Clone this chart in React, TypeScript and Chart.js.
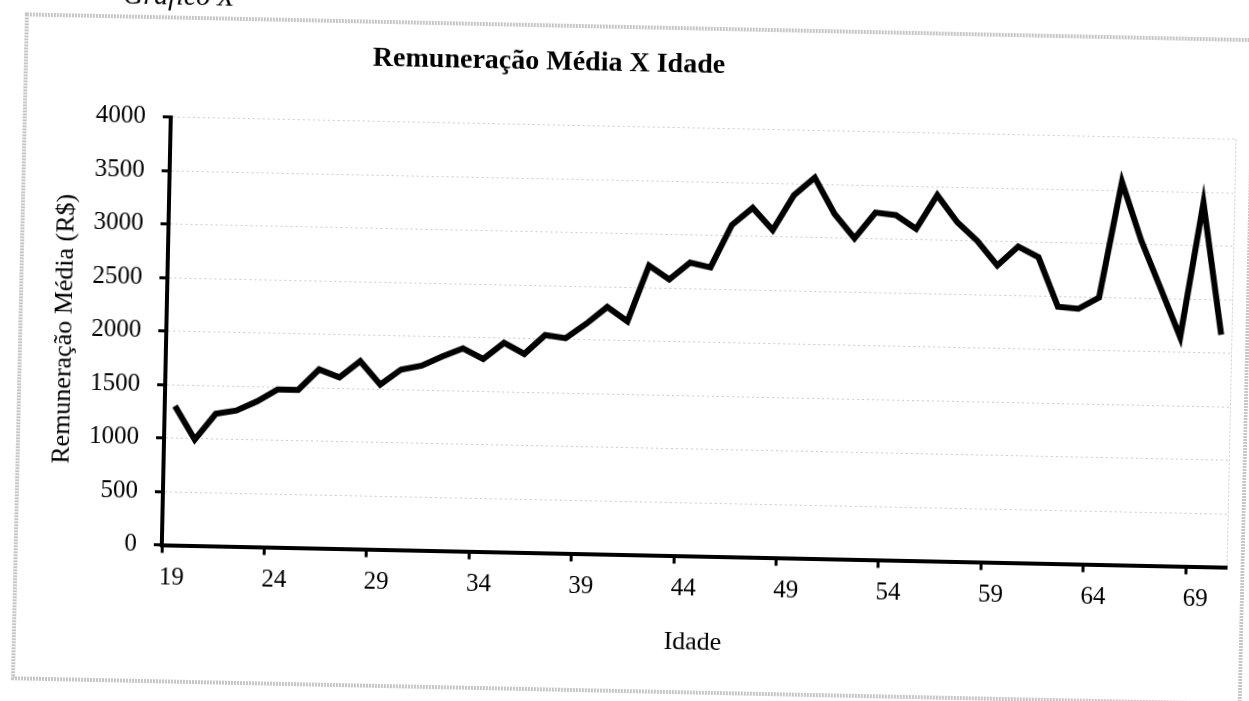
import React, { useEffect, useRef } from "react";
import { Chart, registerables } from "chart.js";

Chart.register(...registerables);

// ---- data ----
const ages: string[] = [
  "19", "20", "21", "22", "23", "24", "25", "26", "27", "28",
  "29", "30", "31", "32", "33", "34", "35", "36", "37", "38",
  "39", "40", "41", "42", "43", "44", "45", "46", "47", "48",
  "49", "50", "51", "52", "53", "54", "55", "56", "57", "58",
  "59", "60", "61", "62", "63", "64", "65", "66", "67", "68",
  "69", "70",
];

const remuneracaoMedia: number[] = [
  1300, 990, 1235, 1270, 1360, 1475, 1475, 1670, 1600, 1755,
  1540, 1685, 1725, 1815, 1895, 1800, 1955, 1855, 2035, 2010,
  2150, 2310, 2180, 2705, 2580, 2740, 2700, 3100, 3265, 3060,
  3390, 3560, 3225, 3000, 3245, 3225, 3100, 3420, 3170, 3000,
  2775, 2955, 2860, 2400, 2385, 2495, 3580, 3035, 2590, 2140,
  3400, 2170,
];

const yMin = 0;
const yMax = 4000;
const yStep = 500;
const labelEvery = 5;

const CAPTION = "Gráfico X";
const TITLE = "Remuneração Média X Idade";
const Y_TITLE = "Remuneração Média (R$)";
const X_TITLE = "Idade";

const FONT = "'Liberation Serif', 'Times New Roman', serif";

const decorPlugin = {
  id: "decor",
  beforeDraw(chart: any) {
    const ctx = chart.ctx;
    ctx.save();
    ctx.fillStyle = "#ffffff";
    ctx.fillRect(0, 0, chart.width, chart.height);
    ctx.strokeStyle = "#c6c6c6";
    ctx.lineWidth = 4;
    ctx.setLineDash([2, 1]);
    ctx.strokeRect(20, 27, 1227, 664);
    ctx.restore();
  },
  afterDraw(chart: any) {
    const ctx = chart.ctx;
    const a = chart.chartArea;
    ctx.save();
    ctx.strokeStyle = "#cccccc";
    ctx.lineWidth = 1;
    ctx.setLineDash([2, 2]);
    ctx.beginPath();
    ctx.moveTo(Math.round(a.right) + 0.5, a.top);
    ctx.lineTo(Math.round(a.right) + 0.5, a.bottom - 2);
    ctx.stroke();
    ctx.setLineDash([]);
    ctx.fillStyle = "#000";
    ctx.font = `bold 28px ${FONT}`;
    ctx.textAlign = "center";
    ctx.textBaseline = "middle";
    ctx.fillText(TITLE, 543, 64);
    ctx.font = `italic 28px ${FONT}`;
    ctx.textAlign = "left";
    ctx.textBaseline = "alphabetic";
    ctx.fillText(CAPTION, 116, 14);
    ctx.restore();
  },
};

export default function App() {
  const ref = useRef<HTMLCanvasElement>(null);

  useEffect(() => {
    const canvas = ref.current;
    if (!canvas) return;
    const chart = new Chart(canvas, {
      type: "line",
      data: {
        labels: ages,
        datasets: [
          {
            data: remuneracaoMedia,
            borderColor: "#000",
            borderWidth: 6,
            pointRadius: 0,
            pointHoverRadius: 0,
            tension: 0,
            fill: false,
            borderJoinStyle: "miter",
            borderCapStyle: "butt",
          },
        ],
      },
      options: {
        animation: false,
        responsive: false,
        devicePixelRatio: 1,
        events: [],
        layout: { padding: { left: 0, right: 18, top: 126.5, bottom: 0 } },
        plugins: {
          legend: { display: false },
          title: { display: false },
          tooltip: { enabled: false },
        },
        scales: {
          x: {
            type: "category",
            offset: true,
            grid: {
              offset: true,
              drawOnChartArea: false,
              drawTicks: true,
              tickLength: 8,
              tickWidth: 3,
              tickBorderDash: [],
              tickColor: (c: any) =>
                typeof c.index === "number" && c.index % labelEvery === 0
                  ? "#000"
                  : "rgba(0,0,0,0)",
            },
            border: { display: true, color: "#000", width: 4 },
            ticks: {
              autoSkip: false,
              maxRotation: 0,
              minRotation: 0,
              padding: 10,
              color: "#000",
              font: { family: FONT, size: 25 },
              callback: function (this: any, v: any, i: number) {
                return i % labelEvery === 0 ? this.getLabelForValue(v) : "";
              },
            },
            title: {
              display: true,
              text: X_TITLE,
              color: "#000",
              font: { family: FONT, size: 26 },
              padding: { top: 0, bottom: 44 },
            },
            afterFit: (s: any) => {
              s.height = 146.5;
            },
          },
          y: {
            min: yMin,
            max: yMax,
            ticks: {
              stepSize: yStep,
              padding: 17,
              color: "#000",
              font: { family: FONT, size: 25 },
              callback: (v: any) => String(v),
            },
            grid: {
              color: "#cccccc",
              lineWidth: 1,
              tickColor: "#000",
              tickWidth: 3,
              tickLength: 8,
              tickBorderDash: [],
            },
            border: { display: true, color: "#000", width: 4, dash: [2, 3] },
            title: {
              display: true,
              text: Y_TITLE,
              color: "#000",
              font: { family: FONT, size: 26 },
              padding: { top: 49, bottom: 0 },
            },
            afterFit: (s: any) => {
              s.width = 166;
            },
          },
        },
      } as any,
      plugins: [decorPlugin],
    });
    return () => chart.destroy();
  }, []);

  return (
    <div
      style={{
        position: "fixed",
        left: 0,
        top: 0,
        width: 1249,
        height: 701,
        background: "#fff",
        transform: "rotate(1.2deg)",
        transformOrigin: "624px 350px",
      }}
    >
      <canvas
        ref={ref}
        width={1249}
        height={701}
        style={{ display: "block", width: 1249, height: 701 }}
      />
    </div>
  );
}
